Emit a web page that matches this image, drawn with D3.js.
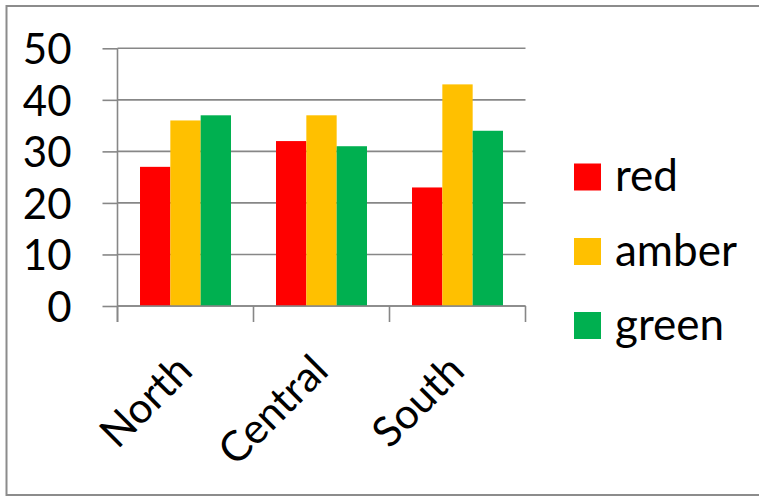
<!DOCTYPE html>
<html><head><meta charset="utf-8">
<script src="https://cdn.jsdelivr.net/npm/d3@7"></script>
<style>html,body{margin:0;padding:0;background:#fff;}svg{display:block;}</style>
</head><body>
<script>
const categories = ["North", "Central", "South"];
const seriesNames = ["red", "amber", "green"];
const redValues = [27, 32, 23];
const amberValues = [36, 37, 43];
const greenValues = [37, 31, 34];
const yTicks = [0, 10, 20, 30, 40, 50];
const seriesColors = ["#FF0000", "#FFC000", "#00B050"];

const seriesValues = [redValues, amberValues, greenValues];
const W = 759, H = 496;
const font = "Lato, 'Open Sans', sans-serif";
const gridColor = "#878787";

const svg = d3.select("body").append("svg").attr("width", W).attr("height", H);

// outer border
svg.append("rect").attr("x", 6.5).attr("y", 6).attr("width", 770).attr("height", 489)
  .attr("fill", "#fff").attr("stroke", "#8c8c8c").attr("stroke-width", 2);

const pLeft = 117.5, pRight = 525.5, pTop = 48.3, pBottom = 306;
const y = d3.scaleLinear().domain([0, 50]).range([pBottom, pTop]);
const x = d3.scaleBand().domain(categories).range([pLeft, pRight]).paddingInner(0.331).paddingOuter(0.1655);
const xs = d3.scaleBand().domain(seriesNames).range([0, x.bandwidth()]).padding(0);

// gridlines
svg.append("g").selectAll("line").data(yTicks).join("line")
  .attr("x1", pLeft).attr("x2", pRight)
  .attr("y1", d => y(d)).attr("y2", d => y(d))
  .attr("stroke", gridColor).attr("stroke-width", 1.6);

// y axis
const yAxis = svg.append("g").attr("transform", `translate(${pLeft},0)`)
  .call(d3.axisLeft(y).tickValues(yTicks).tickSize(15).tickPadding(31).tickFormat(d3.format("d")));
yAxis.select(".domain").remove();
yAxis.selectAll(".tick line").attr("stroke", gridColor).attr("stroke-width", 1.6);
yAxis.selectAll(".tick text").attr("font-family", font).attr("font-size", 42).attr("fill", "#000")
  .attr("dy", null).attr("y", 15.5);

// bars
const groups = svg.append("g").selectAll("g").data(categories).join("g")
  .attr("transform", d => `translate(${x(d)},0)`);
groups.selectAll("rect").data((c, ci) => seriesNames.map((s, si) => ({s, si, v: seriesValues[si][ci]})))
  .join("rect")
  .attr("x", d => xs(d.s)).attr("width", xs.bandwidth())
  .attr("y", d => y(d.v)).attr("height", d => y(0) - y(d.v))
  .attr("fill", d => seriesColors[d.si]);

// axis lines
svg.append("line").attr("x1", pLeft).attr("x2", pLeft).attr("y1", pTop).attr("y2", pBottom + 16)
  .attr("stroke", gridColor).attr("stroke-width", 1.6);
svg.append("line").attr("x1", pLeft).attr("x2", pRight).attr("y1", pBottom).attr("y2", pBottom)
  .attr("stroke", gridColor).attr("stroke-width", 1.6);
const step = x.step();
svg.append("g").selectAll("line").data(d3.range(categories.length + 1)).join("line")
  .attr("x1", i => pLeft + i * step).attr("x2", i => pLeft + i * step)
  .attr("y1", pBottom).attr("y2", pBottom + 16)
  .attr("stroke", gridColor).attr("stroke-width", 1.6);

// x labels
svg.append("g").selectAll("text").data(categories).join("text")
  .attr("transform", d => `translate(${x(d) + x.bandwidth() / 2 + 9},373) rotate(-45)`)
  .attr("text-anchor", "end").attr("font-family", font).attr("font-size", 42).attr("fill", "#000")
  .text(d => d);

// legend
const legendY = [177, 251.5, 325.5];
const lg = svg.append("g").selectAll("g").data(seriesNames).join("g")
  .attr("transform", (d, i) => `translate(574,${legendY[i]})`);
lg.append("rect").attr("x", 0).attr("y", -13.5).attr("width", 27).attr("height", 27)
  .attr("fill", (d, i) => seriesColors[i]);
lg.append("text").attr("x", 41).attr("y", 14).attr("font-family", font).attr("font-size", 44)
  .attr("fill", "#000").text(d => d);
</script>
</body></html>
